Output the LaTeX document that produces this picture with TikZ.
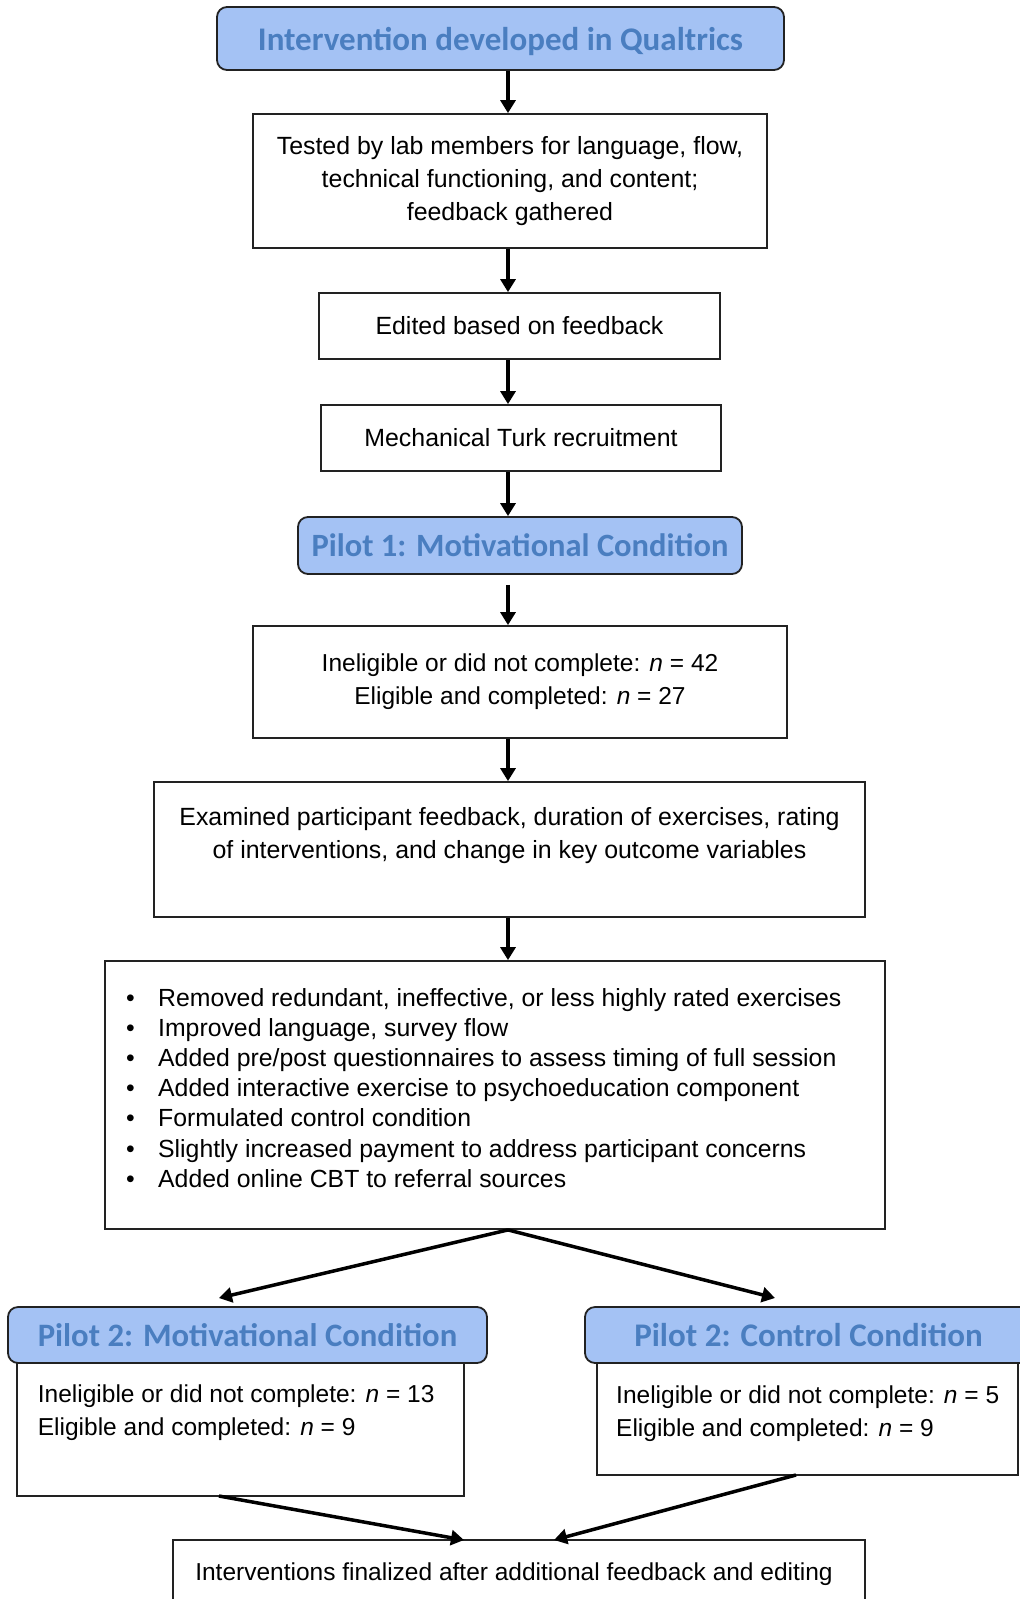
\documentclass[tikz,border=0pt]{standalone}
\usepackage{fontspec}
\setmainfont{Liberation Sans}
\newfontfamily\hdfont{Carlito}
\usetikzlibrary{arrows.meta}
\definecolor{hdfill}{HTML}{A4C2F4}
\definecolor{hdtext}{HTML}{4A7EC0}
\definecolor{bord}{HTML}{222222}
\begin{document}
\begin{tikzpicture}[x=1pt,y=-1pt,
 box/.style={draw=bord,line width=1.8pt,fill=white,inner sep=0pt,font=\fontsize{24.9}{33}\selectfont,align=center},
 hdr/.style={draw=bord,line width=1.8pt,fill=hdfill,rounded corners=10pt,inner sep=0pt,text depth=0pt,font=\hdfont\bfseries\fontsize{33}{38}\selectfont,text=hdtext},
 arr/.style={line width=3.5pt,-{Triangle[length=13pt,width=15pt]}},
 txt/.style={inner sep=0pt,font=\fontsize{24.9}{33}\selectfont},
 ntxt/.style={font=\fontsize{24.5}{33}\selectfont}]
\useasboundingbox (0,0) rectangle (1020,1599);
\coordinate (col) at (508,0);
\node[hdr,minimum width=567pt,minimum height=63pt] (top) at (500.5,38.5) {Intervention developed in Qualtrics};
\node[box,minimum width=514pt,minimum height=134pt] (tested) at (510,181) {Tested by lab members for language, flow,\\technical functioning, and content;\\feedback gathered};
\node[box,minimum width=401pt,minimum height=66pt] (edited) at (519.5,326) {Edited based on feedback};
\node[box,minimum width=400pt,minimum height=66pt] (mech) at (521,438) {Mechanical Turk recruitment};
\node[hdr,minimum width=444pt,minimum height=57pt,font=\hdfont\bfseries\fontsize{32.5}{38}\selectfont] (p1) at (520,545.5) {Pilot 1: Motivational Condition};
\node[box,ntxt,minimum width=534pt,minimum height=112pt] (inel) at (520,682) {Ineligible or did not complete: \textit{n} = 42\\Eligible and completed: \textit{n} = 27};
\node[box,minimum width=711pt,minimum height=135pt] (exam) at (509.5,849.5) {};
\node[txt,anchor=north,align=center] (examt) at (509.5,807) {Examined participant feedback, duration of exercises, rating\\of interventions, and change in key outcome variables};
\node[box,minimum width=780pt,minimum height=268pt] (bul) at (495,1095) {};
\node[txt,anchor=north west,align=left,font=\fontsize{24.8}{30.2}\selectfont] (bult) at (126,988) {%
\makebox[32pt][l]{\textbullet}Removed redundant, ineffective, or less highly rated exercises\\
\makebox[32pt][l]{\textbullet}Improved language, survey flow\\
\makebox[32pt][l]{\textbullet}Added pre/post questionnaires to assess timing of full session\\
\makebox[32pt][l]{\textbullet}Added interactive exercise to psychoeducation component\\
\makebox[32pt][l]{\textbullet}Formulated control condition\\
\makebox[32pt][l]{\textbullet}Slightly increased payment to address participant concerns\\
\makebox[32pt][l]{\textbullet}Added online CBT to referral sources};
\node[box,minimum width=447pt,minimum height=133pt] (lbody) at (240.5,1429.5) {};
\node[hdr,minimum width=479pt,minimum height=56pt,font=\hdfont\bfseries\fontsize{32.7}{38}\selectfont] (lhd) at (247.5,1335) {Pilot 2: Motivational Condition};
\node[txt,ntxt,anchor=north west,align=left] (lbodyt) at (37.7,1385) {Ineligible or did not complete: \textit{n} = 13\\Eligible and completed: \textit{n} = 9};
\node[box,minimum width=421pt,minimum height=112pt] (rbody) at (807.5,1419) {};
\node[hdr,minimum width=447pt,minimum height=56pt] (rhd) at (808.5,1335) {Pilot 2: Control Condition};
\node[txt,ntxt,anchor=north west,align=left] (rbodyt) at (616,1386) {Ineligible or did not complete: \textit{n} = 5\\Eligible and completed: \textit{n} = 9};
\node[box,minimum width=692pt,minimum height=100pt] (fin) at (519,1590) {};
\node[txt,ntxt] (fint) at (514,1574) {Interventions finalized after additional feedback and editing};
\coordinate (lt) at (219,1298);
\coordinate (rt) at (775,1298);
\coordinate (lb) at (219,1496);
\coordinate (rb) at (796,1475);
\coordinate (ft1) at (464,1540);
\coordinate (ft2) at (554,1540);
\draw[arr] (top.south -| col) -- (tested.north -| col);
\draw[arr] (tested.south -| col) -- (edited.north -| col);
\draw[arr] (edited.south -| col) -- (mech.north -| col);
\draw[arr] (mech.south -| col) -- (p1.north -| col);
\draw[arr] ([yshift=-10pt]p1.south -| col) -- (inel.north -| col);
\draw[arr] (inel.south -| col) -- (exam.north -| col);
\draw[arr] (exam.south -| col) -- (bul.north -| col);
\draw[arr] (bul.south -| col) -- (lt);
\draw[arr] (bul.south -| col) -- (rt);
\draw[arr] (lb) -- (ft1);
\draw[arr] (rb) -- (ft2);
\end{tikzpicture}
\end{document}
